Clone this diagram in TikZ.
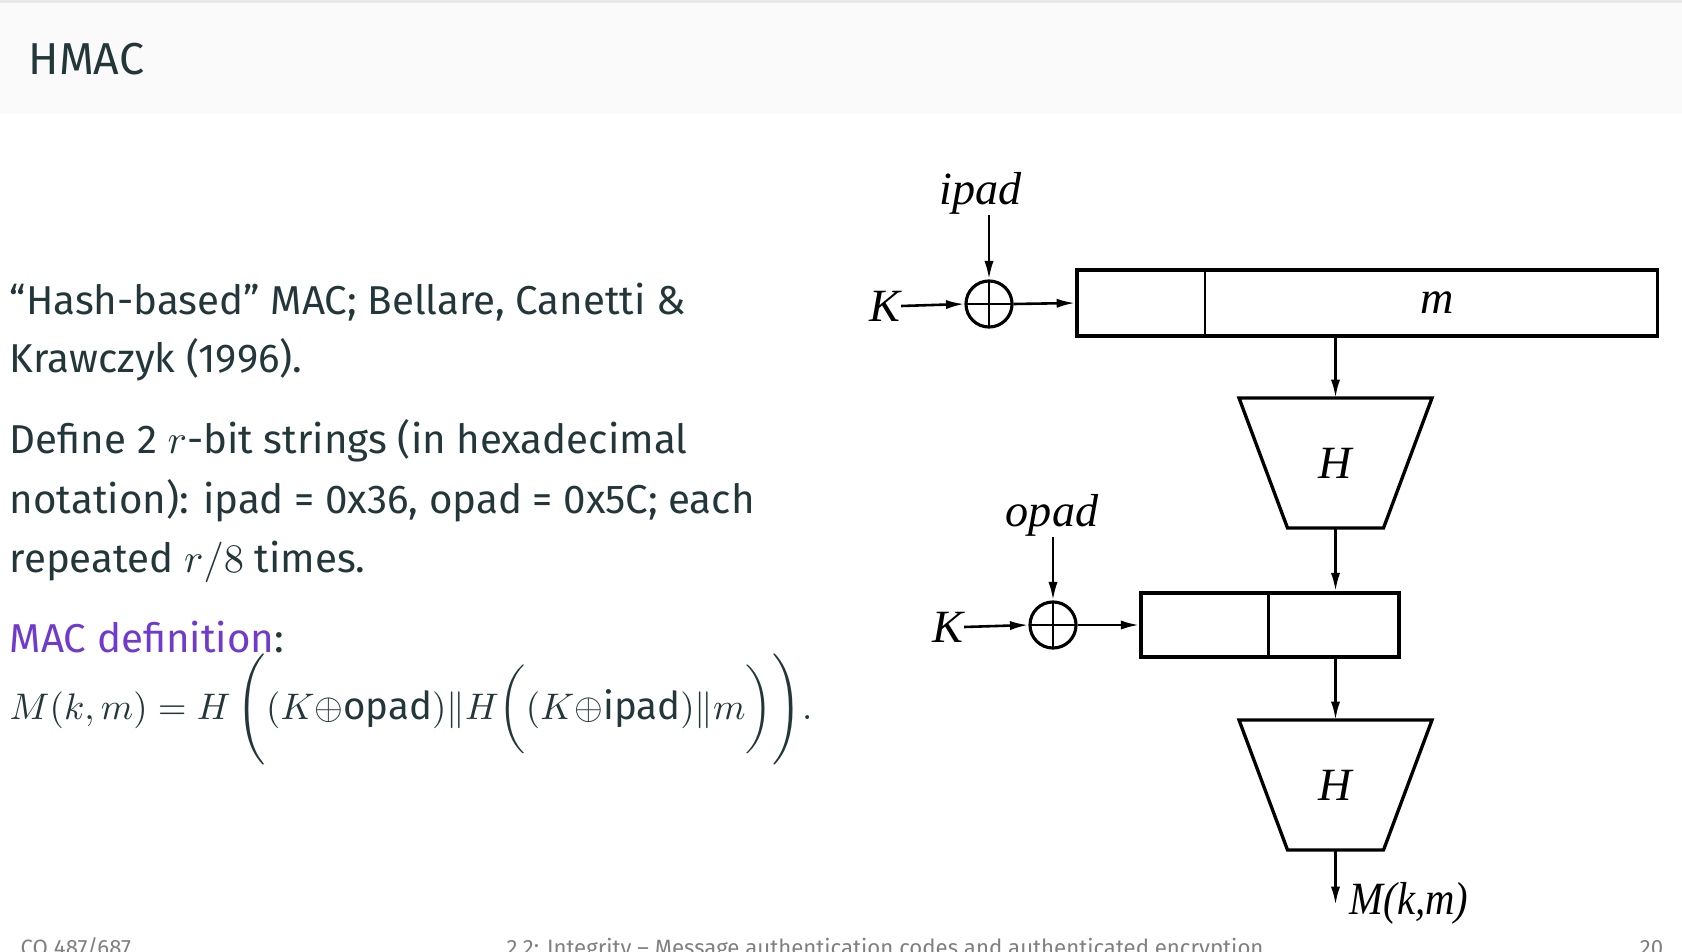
\documentclass[tikz,border=0pt]{standalone}
\usepackage[no-math]{fontspec}
\setmainfont{Fira Sans}
\newfontfamily\diagfont{Liberation Serif}
\usepackage{amsmath}
\usepackage{graphicx}
\usepackage{tikz}
\usetikzlibrary{arrows.meta,calc,positioning}
\definecolor{slidetext}{HTML}{23373B}
\definecolor{headbg}{HTML}{FAFAFA}
\definecolor{headline}{HTML}{E8E8E8}
\definecolor{alertpurple}{RGB}{112,58,205}
\definecolor{foottext}{HTML}{808080}
\tikzstyle{bodytext}=[anchor=base west,inner sep=0pt,text=slidetext,font=\fontsize{10.9}{13}\selectfont]
\tikzstyle{foot}=[inner sep=0pt,text=foottext,font=\fontsize{6.0}{7}\selectfont]
\tikzstyle{lbl}=[inner sep=0pt,font=\diagfont\itshape\fontsize{12.5}{14}\selectfont]
\tikzstyle{arr}=[-{Latex[length=5pt,width=2.5pt]},line width=0.7pt]
\tikzstyle{cell}=[draw,line width=0.9pt,inner sep=0pt]
\tikzstyle{xorc}=[draw,circle,minimum size=0.438cm,inner sep=0pt,line width=0.85pt,
  path picture={\draw[line width=0.7pt] (path picture bounding box.north) -- (path picture bounding box.south)
    (path picture bounding box.west) -- (path picture bounding box.east);}]

\begin{document}
\begin{tikzpicture}[x=0.0095125cm,y=-0.0095125cm]
\useasboundingbox (0,0) rectangle (1682,952);
% frame title
\fill[headbg] (0,0) rectangle (1682,114);
\fill[headline] (0,0) rectangle (1682,3);
\node[anchor=base west,inner sep=0pt,text=slidetext,font=\fontsize{12.1}{15}\selectfont] (title) at (28,75) {HMAC};

% left column
\node[bodytext] (t1) at (9,315) {“Hash-based” MAC; Bellare, Canetti \&};
\node[bodytext] (t2) at (9,373) {Krawczyk (1996).};
\node[bodytext] (t3) at (9,453) {Define 2 $r$-bit strings (in hexadecimal};
\node[bodytext] (t4) at (9,513) {notation): ipad = 0x36, opad = 0x5C; each};
\node[bodytext] (t5) at (9,572) {repeated $r/8$ times.};
\node[bodytext] (t6) at (9,652) {\textcolor{alertpurple}{MAC definition}:};
\node[bodytext,font=\fontsize{10.4}{13}\selectfont] (t7) at (9,719) {$M(k,m) = H\,\Bigg((K{\oplus}\text{opad})\|H\bigg((K{\oplus}\text{ipad})\|m\bigg)\Bigg).$};

% inner hash
\node[lbl] (ipad) at (981,193) {ipad};
\node[xorc] (xa) at (989,304) {};
\node[lbl] (ka) at (885,306) {K};
\node[cell,minimum width=5.517cm,minimum height=0.628cm] (boxa) at (1367,303) {};
\draw[line width=0.7pt] ($(boxa.north west)+(130,0)$) -- ($(boxa.south west)+(130,0)$);
\node[lbl] (mlab) at (1437,303) {m};
\node[lbl] (ha) at (1335.5,463) {H};
\draw[cell] ($(ha)+(-96.5,-65)$) -- ($(ha)+(96.5,-65)$) -- ($(ha)+(48,65)$) -- ($(ha)+(-48,65)$) -- cycle;
\coordinate (hatop) at ($(ha)+(0,-65)$);
\coordinate (habot) at ($(ha)+(0,65)$);
\draw[arr] (ipad.south -| xa) -- (xa.north);
\draw[arr] (ka.east) -- (xa.west);
\draw[arr] (xa.east) -- (boxa.west);
\draw[arr] (hatop |- boxa.south) -- (hatop);

% outer hash
\node[lbl] (opad) at (1052,515) {opad};
\node[xorc] (xb) at (1053,625) {};
\node[lbl] (kb) at (948,627) {K};
\node[cell,minimum width=2.454cm,minimum height=0.609cm] (boxb) at (1270,625) {};
\draw[line width=0.7pt] ($(boxb.north west)+(129,0)$) -- ($(boxb.south west)+(129,0)$);
\node[lbl] (hb) at (1335.5,785) {H};
\draw[cell] ($(hb)+(-96.5,-65)$) -- ($(hb)+(96.5,-65)$) -- ($(hb)+(48,65)$) -- ($(hb)+(-48,65)$) -- cycle;
\coordinate (hbtop) at ($(hb)+(0,-65)$);
\coordinate (hbbot) at ($(hb)+(0,65)$);
\coordinate (out) at (1335.5,905);
\node[lbl,anchor=west] (mkm) at (1349,903) {\scalebox{0.88}[1]{M(k,m)}};
\draw[arr] (opad.south -| xb) -- (xb.north);
\draw[arr] (kb.east) -- (xb.west);
\draw[arr] (xb.east) -- (boxb.west);
\draw[arr] (habot) -- (habot |- boxb.north);
\draw[arr] (hbtop |- boxb.south) -- (hbtop);
\draw[arr] (hbbot) -- (out);

% footline
\node[foot,anchor=base west] (fleft) at (20,955) {CO 487/687};
\node[foot,anchor=base] (fmid) at (885,955) {2.2: Integrity -- Message authentication codes and authenticated encryption};
\node[foot,anchor=base east] (fright) at (1664,955) {20};
\end{tikzpicture}
\end{document}
